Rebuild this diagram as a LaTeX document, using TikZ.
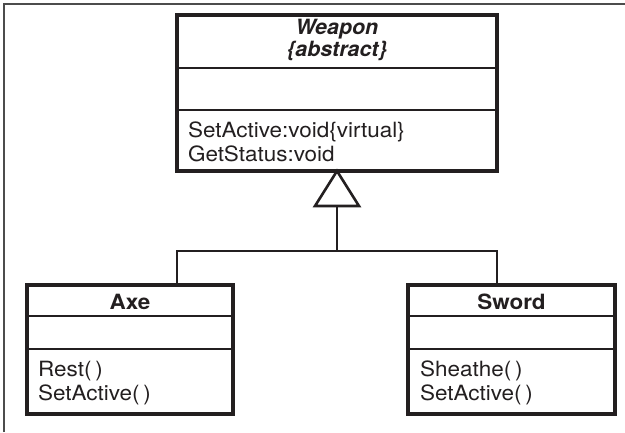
\documentclass[tikz,border=0pt]{standalone}
\usepackage{fontspec}
\usetikzlibrary{calc}
\setmainfont{TeX Gyre Heros}[FakeStretch=1.07]
\newfontfamily\titlefont{TeX Gyre Heros}[FakeStretch=1.02]
\definecolor{ink}{HTML}{231F20}
\begin{document}
\begin{tikzpicture}[x=1pt,y=-1pt,
  classbox/.style={draw=ink, line width=3.1pt, fill=white, inner sep=0pt, outer sep=0pt},
  divider/.style={draw=ink, line width=2.8pt},
  conn/.style={draw=ink, line width=2.6pt},
  txt/.style={inner sep=0pt, anchor=base west, text=ink, font=\fontsize{21}{24}\selectfont},
  ttl/.style={inner sep=0pt, anchor=base, text=ink, font=\fontsize{21}{24}\selectfont\bfseries},
  frameline/.style={draw=black!70, line width=1.3pt}
]
\useasboundingbox (0,0) rectangle (625,432);
\draw[frameline] (4,432) -- (4,4) -- (625,4);

% class boxes
\node[classbox, minimum width=320pt, minimum height=156pt] (weapon) at (337,93) {};
\node[classbox, minimum width=206pt, minimum height=129pt] (axe) at (130,349.5) {};
\node[classbox, minimum width=207pt, minimum height=129pt] (sword) at (511.5,349.5) {};

% compartments
\draw[divider] (weapon.west |- 0,68) -- (weapon.east |- 0,68);
\draw[divider] (weapon.west |- 0,110) -- (weapon.east |- 0,110);
\draw[divider] (axe.west |- 0,316) -- (axe.east |- 0,316);
\draw[divider] (axe.west |- 0,349) -- (axe.east |- 0,349);
\draw[divider] (sword.west |- 0,316) -- (sword.east |- 0,316);
\draw[divider] (sword.west |- 0,349) -- (sword.east |- 0,349);

% texts
\node[ttl, font=\fontsize{21}{24}\selectfont\titlefont\bfseries\itshape] (wname) at (337,34) {Weapon};
\node[ttl, font=\fontsize{21}{24}\selectfont\titlefont\bfseries\itshape] (wabs) at (337,56) {\{abstract\}};
\node[txt] (wop1) at (188,137) {SetActive:void\{virtual\}};
\node[txt] (wop2) at (188,161) {GetStatus:void};

\node[ttl] (aname) at (130,309) {Axe};
\node[txt] (aop1) at (38,376) {Rest(\hspace{0.18em})};
\node[txt] (aop2) at (38,400) {SetActive(\hspace{0.18em})};

\node[ttl] (sname) at (511.5,309) {Sword};
\node[txt] (sop1) at (420,376) {Sheathe(\hspace{0.18em})};
\node[txt] (sop2) at (420,400) {SetActive(\hspace{0.18em})};

% generalization
\coordinate (tribase) at (337,206);
\coordinate (junction) at (337,251);
\draw[conn] (tribase) -- (junction);
\draw[conn] (weapon.west |- axe.north) -- (weapon.west |- junction) -- (weapon.east |- junction) -- (weapon.east |- sword.north);
\draw[conn, fill=white, line join=miter] (weapon.south) -- ($(tribase)+(22,0)$) -- ($(tribase)+(-22,0)$) -- cycle;
\end{tikzpicture}
\end{document}
